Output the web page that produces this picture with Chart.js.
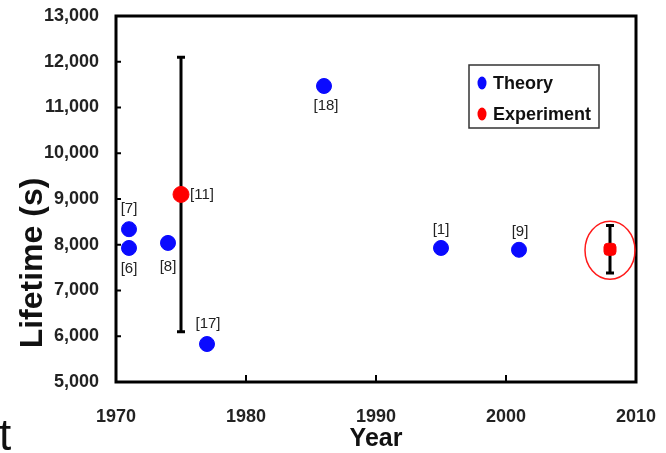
<!DOCTYPE html>
<html>
<head>
<meta charset="utf-8">
<script src="https://cdn.jsdelivr.net/npm/chart.js@4.4.1/dist/chart.umd.min.js"></script>
<style>
html,body{margin:0;padding:0;background:#fff;}
#wrap{width:666px;height:453px;position:relative;}
</style>
</head>
<body>
<div id="wrap"><canvas id="c" width="666" height="453"></canvas></div>
<script>
// ---- data ----
const theoryYears  = [1971, 1971, 1974, 1977, 1986, 1995, 2001];
const theoryValues = [8340, 7930, 8040, 5830, 11470, 7930, 7890];
const theoryRefs   = ['[7]', '[6]', '[8]', '[17]', '[18]', '[1]', '[9]'];
const expYears     = [1975, 2008];
const expValues    = [9100, 7900];
const expErrors    = [3000, 520];
const expRefs      = ['[11]', ''];
const yTicks       = [5000, 6000, 7000, 8000, 9000, 10000, 11000, 12000, 13000];
const xTicks       = [1970, 1980, 1990, 2000, 2010];
const seriesNames  = ['Theory', 'Experiment'];
const axisTitles   = {x: 'Year', y: 'Lifetime (s)'};

// label offsets (pixels) for reference tags
const theoryLabelOffsets = [[0,-20],[0,21],[0,24],[1,-20],[2,20],[0,-18],[1,-18]];
const expLabelOffsets = [[21,0],[0,0]];

const FONT = '"Liberation Sans", Arial, sans-serif';

const decorPlugin = {
  id: 'decor',
  beforeDatasetsDraw(chart) {
    const ctx = chart.ctx, xs = chart.scales.x, ys = chart.scales.y;
    ctx.save();
    ctx.strokeStyle = '#000';
    ctx.lineWidth = 3;
    expYears.forEach((yr, i) => {
      const px = xs.getPixelForValue(yr);
      const top = ys.getPixelForValue(expValues[i] + expErrors[i]);
      const bot = ys.getPixelForValue(expValues[i] - expErrors[i]);
      ctx.beginPath();
      ctx.moveTo(px, top); ctx.lineTo(px, bot);
      ctx.moveTo(px - 4, top); ctx.lineTo(px + 4, top);
      ctx.moveTo(px - 4, bot); ctx.lineTo(px + 4, bot);
      ctx.stroke();
    });
    ctx.restore();
  },
  afterDraw(chart) {
    const ctx = chart.ctx, xs = chart.scales.x, ys = chart.scales.y, a = chart.chartArea;
    ctx.save();
    // frame
    ctx.strokeStyle = '#000';
    ctx.lineWidth = 3;
    ctx.strokeRect(a.left, a.top, a.right - a.left, a.bottom - a.top);
    // inward ticks
    ctx.lineWidth = 2;
    ctx.beginPath();
    yTicks.forEach(v => {
      const py = ys.getPixelForValue(v);
      ctx.moveTo(a.left, py); ctx.lineTo(a.left + 5, py);
    });
    xTicks.forEach(v => {
      const px = xs.getPixelForValue(v);
      ctx.moveTo(px, a.bottom); ctx.lineTo(px, a.bottom - 7);
    });
    ctx.stroke();

    // reference tags
    ctx.fillStyle = '#222';
    ctx.font = '15px ' + FONT;
    ctx.textBaseline = 'middle';
    theoryYears.forEach((yr, i) => {
      const px = xs.getPixelForValue(yr) + theoryLabelOffsets[i][0];
      const py = ys.getPixelForValue(theoryValues[i]) + theoryLabelOffsets[i][1];
      ctx.textAlign = 'center';
      ctx.fillText(theoryRefs[i], px, py);
    });
    expYears.forEach((yr, i) => {
      if (!expRefs[i]) return;
      const px = xs.getPixelForValue(yr) + expLabelOffsets[i][0];
      const py = ys.getPixelForValue(expValues[i]) + expLabelOffsets[i][1];
      ctx.textAlign = 'center';
      ctx.fillText(expRefs[i], px, py);
    });

    // highlight ellipse around latest experiment
    const last = expYears.length - 1;
    const ex = xs.getPixelForValue(expYears[last]);
    const ey = ys.getPixelForValue(expValues[last]);
    ctx.strokeStyle = '#ff1a1a';
    ctx.lineWidth = 1.5;
    ctx.beginPath();
    ctx.ellipse(ex, ey + 1, 25, 29, 0, 0, Math.PI * 2);
    ctx.stroke();

    // legend
    const lx = 469, ly = 65, lw = 130, lh = 63;
    ctx.strokeStyle = '#333';
    ctx.lineWidth = 1.5;
    ctx.strokeRect(lx, ly, lw, lh);
    const cols = ['#0a0aff', '#ff0000'];
    chart.data.datasets.forEach((ds, i) => {
      const cy = ly + 18 + i * 31;
      ctx.fillStyle = cols[i];
      ctx.beginPath();
      ctx.ellipse(lx + 13, cy, 4.5, 6.5, 0, 0, Math.PI * 2);
      ctx.fill();
      ctx.fillStyle = '#111';
      ctx.font = 'bold 18px ' + FONT;
      ctx.textAlign = 'left';
      ctx.textBaseline = 'middle';
      ctx.fillText(ds.label, lx + 24, cy + 1);
    });

    // axis titles
    ctx.fillStyle = '#111';
    ctx.font = 'bold 25px ' + FONT;
    ctx.textAlign = 'center';
    ctx.textBaseline = 'alphabetic';
    ctx.fillText(axisTitles.x, (a.left + a.right) / 2, 446);
    ctx.save();
    ctx.translate(42, 263);
    ctx.rotate(-Math.PI / 2);
    ctx.font = 'bold 32px ' + FONT;
    ctx.fillText(axisTitles.y, 0, 0);
    ctx.restore();

    // stray cropped character at bottom-left
    ctx.font = '44px ' + FONT;
    ctx.textAlign = 'left';
    ctx.fillText('t', -1, 450);
    ctx.restore();
  }
};

new Chart(document.getElementById('c'), {
  type: 'scatter',
  data: {
    datasets: [
      {
        label: seriesNames[0],
        data: theoryYears.map((x, i) => ({x, y: theoryValues[i]})),
        backgroundColor: '#0a0aff',
        borderColor: '#0a0aff',
        pointRadius: 7.5,
        pointHoverRadius: 7.5,
        pointStyle: 'circle'
      },
      {
        label: seriesNames[1],
        data: expYears.map((x, i) => ({x, y: expValues[i]})),
        backgroundColor: '#ff0000',
        borderColor: '#ff0000',
        pointRadius: [8, 7],
        pointHoverRadius: [8, 7],
        pointStyle: ['circle', 'rectRounded']
      }
    ]
  },
  options: {
    responsive: false,
    animation: false,
    events: [],
    layout: {padding: {left: 0, right: 30, top: 16, bottom: 0}},
    plugins: {legend: {display: false}, tooltip: {enabled: false}},
    scales: {
      x: {
        type: 'linear',
        min: 1970, max: 2010,
        afterBuildTicks: s => { s.ticks = xTicks.map(v => ({value: v})); },
        afterFit: s => { s.height = 71; s.paddingLeft = 0; s.paddingRight = 0; },
        grid: {display: false, drawTicks: false},
        border: {display: false},
        ticks: {
          padding: 24,
          color: '#222',
          font: {family: FONT, size: 18, weight: 'bold'},
          callback: v => String(v)
        }
      },
      y: {
        min: 5000, max: 13000,
        afterBuildTicks: s => { s.ticks = yTicks.map(v => ({value: v})); },
        afterFit: s => { s.width = 116; s.paddingTop = 0; s.paddingBottom = 0; },
        grid: {display: false, drawTicks: false},
        border: {display: false},
        ticks: {
          padding: 17,
          color: '#222',
          font: {family: FONT, size: 18, weight: 'bold'},
          callback: v => v.toLocaleString('en-US')
        }
      }
    }
  },
  plugins: [decorPlugin]
});
</script>
</body>
</html>
